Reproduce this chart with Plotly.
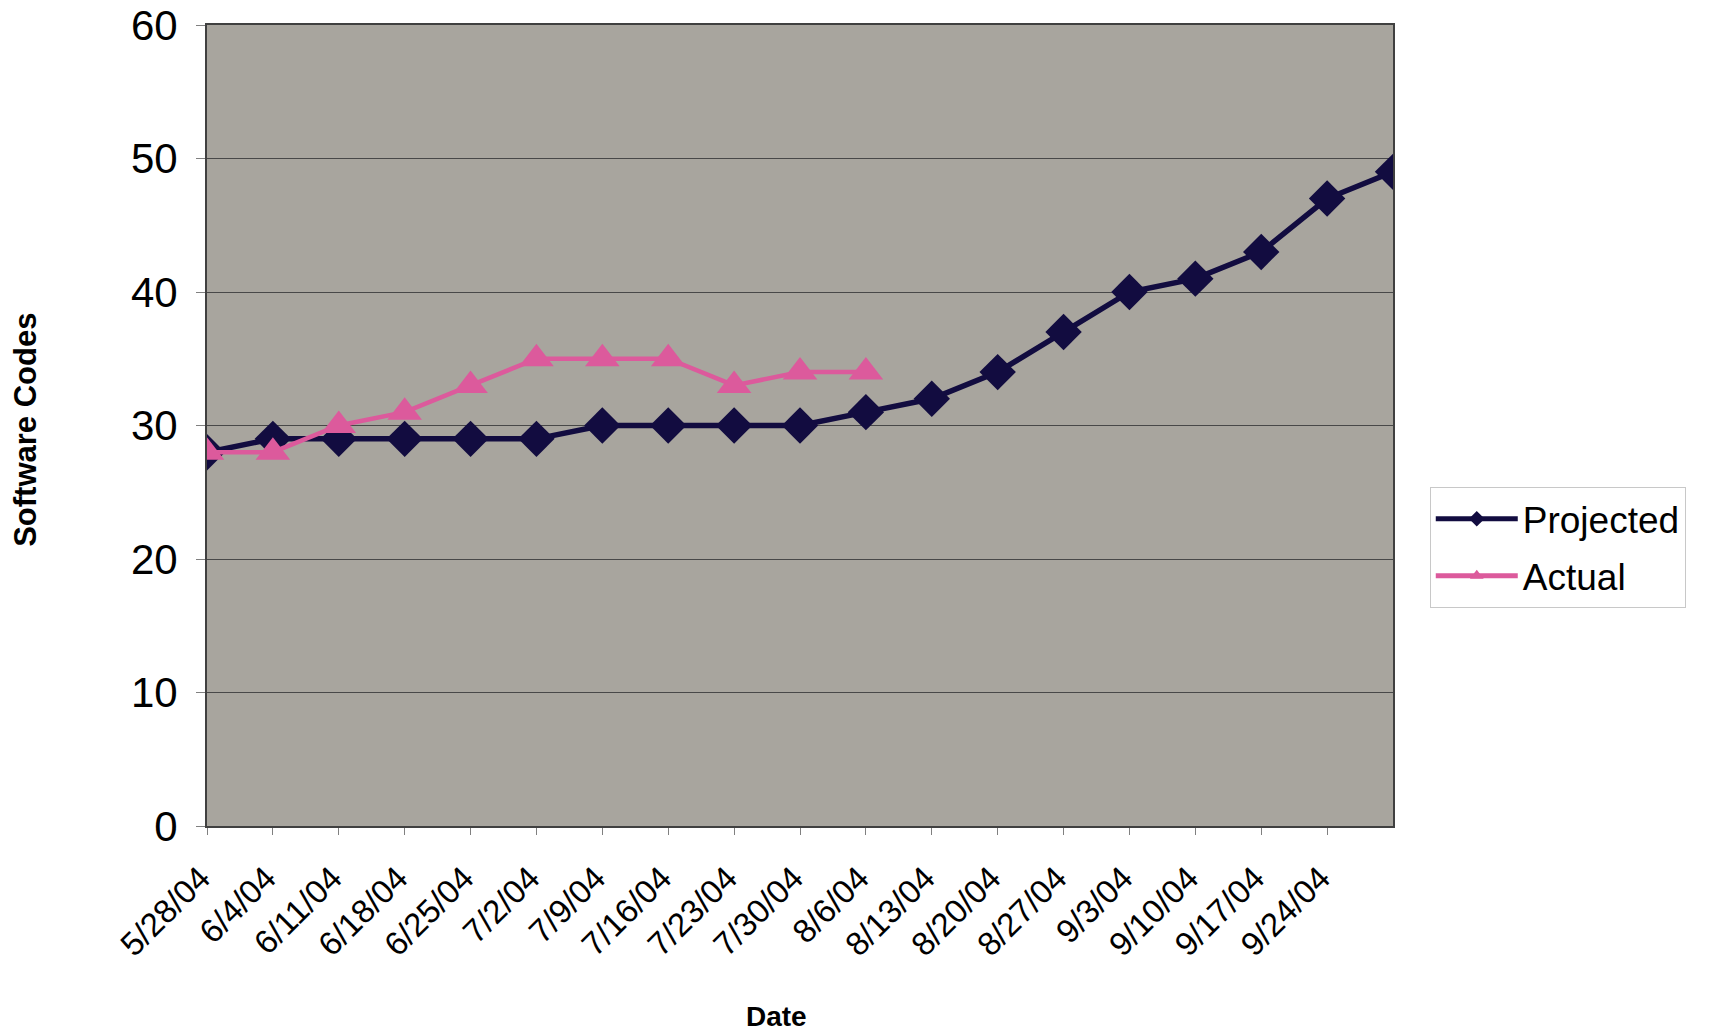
import plotly.graph_objects as go

dates = ["2004-05-28", "2004-06-04", "2004-06-11", "2004-06-18", "2004-06-25",
         "2004-07-02", "2004-07-09", "2004-07-16", "2004-07-23", "2004-07-30",
         "2004-08-06", "2004-08-13", "2004-08-20", "2004-08-27", "2004-09-03",
         "2004-09-10", "2004-09-17", "2004-09-24", "2004-10-01"]
tick_labels = ["5/28/04", "6/4/04", "6/11/04", "6/18/04", "6/25/04", "7/2/04",
               "7/9/04", "7/16/04", "7/23/04", "7/30/04", "8/6/04", "8/13/04",
               "8/20/04", "8/27/04", "9/3/04", "9/10/04", "9/17/04", "9/24/04"]
projected = [28, 29, 29, 29, 29, 29, 30, 30, 30, 30, 31, 32, 34, 37, 40, 41, 43, 47, 49]
actual = [28, 28, 30, 31, 33, 35, 35, 35, 33, 34, 34]

FONT = "Liberation Sans, Arial, sans-serif"
NAVY = "#120c40"
PINK = "#dc5a9c"

fig = go.Figure()
fig.add_trace(go.Scatter(
    x=dates, y=projected, name="Projected", mode="lines+markers",
    legendgroup="p",
    line=dict(color=NAVY, width=5.5),
    marker=dict(symbol="diamond", size=28, color=NAVY),
))
fig.add_trace(go.Scatter(
    x=dates[:len(actual)], y=actual, name="Actual", mode="lines+markers",
    legendgroup="a",
    line=dict(color=PINK, width=4.5),
    marker=dict(symbol="triangle-up", size=30, color=PINK),
))

fig.update_layout(
    width=1720, height=1032,
    margin=dict(l=199, r=335, t=17, b=214, autoexpand=False),
    paper_bgcolor="white",
    plot_bgcolor="#a8a59e",
    font=dict(family=FONT, color="black"),
    showlegend=True,
    legend=dict(
        x=1.031, y=0.423, xanchor="left", yanchor="top",
        bgcolor="white", bordercolor="#c8c8c8", borderwidth=1,
        font=dict(size=37, family=FONT),
        itemsizing="constant", itemwidth=82, tracegroupgap=6,
    ),
)
fig.update_xaxes(
    type="date", automargin=False,
    range=[dates[0], dates[-1]],
    tickmode="array", tickvals=dates[:len(tick_labels)],
    ticktext=[t + "\u00a0" for t in tick_labels],
    tickangle=-45, tickfont=dict(size=33, family=FONT),
    ticks="outside", ticklen=7, tickcolor="#808080",
    ticklabelstandoff=4, ticklabeloverflow="allow",
    showgrid=False, zeroline=False,
    showline=True, linecolor="#404040", linewidth=2, mirror=True,
)
fig.update_yaxes(
    range=[0, 60], dtick=10, automargin=False,
    tickfont=dict(size=42, family=FONT),
    ticks="outside", ticklen=9, tickcolor="#808080",
    ticklabelstandoff=10, ticklabeloverflow="allow",
    showgrid=True, gridcolor="#484848", gridwidth=1,
    zeroline=False,
    showline=True, linecolor="#404040", linewidth=2, mirror=True,
)
fig.add_annotation(text="<b>Date</b>", xref="paper", yref="paper",
                   x=0.48, y=-0.238, xanchor="center", yanchor="middle",
                   showarrow=False, font=dict(size=28, family=FONT))
fig.add_annotation(text="<b>Software Codes</b>", xref="paper", yref="paper",
                   x=-0.153, y=0.494, xanchor="center", yanchor="middle",
                   textangle=-90, showarrow=False,
                   font=dict(size=31, family=FONT))

fig.write_html("out.html")
